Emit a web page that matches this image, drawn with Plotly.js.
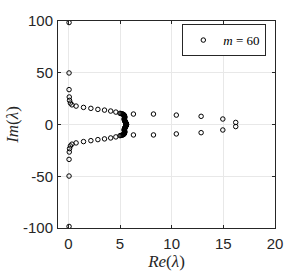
<!DOCTYPE html>
<html>
<head>
<meta charset="utf-8">
<script src="https://cdn.plot.ly/plotly-3.0.1.min.js"></script>
<style>html,body{margin:0;padding:0;background:#fff;}#chart{width:304px;height:273px;}</style>
</head>
<body>
<div id="chart"></div>
<script>
// Upper half of eigenvalues (Re, Im); lower half is the conjugate
const reUpper = [0.07, 0.07, 0.07, 0.09, 0.12, 0.2, 0.35, 0.75, 1.47, 2.18, 2.86, 3.5, 4.1, 4.6, 5.0,
  5.1, 5.2, 5.28, 5.34, 5.38, 5.41, 5.43, 5.44, 5.45, 5.45, 5.45, 5.44, 5.43, 5.42, 5.42, 5.42, 5.43, 5.44, 5.46, 5.48, 5.5, 5.52, 5.54, 5.56, 5.58, 5.6, 5.61, 5.62, 5.63,
  6.3, 8.24, 10.45, 12.85, 14.95, 16.2];
const imUpper = [98.5, 49.8, 33.7, 26.6, 23.3, 20.7, 19.0, 17.8, 16.5, 15.6, 14.6, 13.9, 13.0, 12.0, 10.8,
  10.6, 10.3, 10.0, 9.6, 9.2, 8.8, 8.4, 8.0, 7.6, 7.2, 6.8, 6.4, 6.0, 5.6, 5.2, 4.8, 4.4, 4.0, 3.6, 3.2, 2.8, 2.4, 2.0, 1.6, 1.3, 1.0, 0.7, 0.4, 0.15,
  10.1, 10.1, 9.1, 7.9, 5.3, 2.0];
const legendLabel = "<i>m</i> = 60";
const xTicks = [0, 5, 10, 15, 20];
const yTicks = [-100, -50, 0, 50, 100];

const re = reUpper.concat(reUpper);
const im = imUpper.concat(imUpper.map(v => -v));

const trace = {
  x: re, y: im, type: 'scatter', mode: 'markers', name: legendLabel,
  marker: {symbol: 'circle-open', size: 4.5, color: '#000', line: {width: 1, color: '#000'}},
  showlegend: true
};

const axisCommon = {
  showline: true, mirror: 'ticks', linecolor: '#262626', linewidth: 1,
  ticks: 'inside', ticklen: 3, tickcolor: '#262626',
  showgrid: true, gridcolor: '#e8e8e8', gridwidth: 1, zeroline: false,
  tickfont: {family: 'Liberation Sans, Arial, sans-serif', size: 15, color: '#262626'}
};

const layout = {
  width: 304, height: 273,
  margin: {l: 57.5, r: 29, t: 20.5, b: 44.5},
  paper_bgcolor: '#fff', plot_bgcolor: '#fff',
  showlegend: true,
  xaxis: Object.assign({}, axisCommon, {
    range: [-1, 20], tickvals: xTicks, ticktext: xTicks.map(String), ticklabelstandoff: 2,
    title: {text: '<i>Re</i>(<i>λ</i>)', font: {family: 'Liberation Serif, serif', size: 17, color: '#262626'}, standoff: 0}
  }),
  yaxis: Object.assign({}, axisCommon, {
    range: [-100, 100], tickvals: yTicks, ticktext: yTicks.map(String), ticklabelstandoff: 1,
    title: {text: '<i>Im</i>(<i>λ</i>)', font: {family: 'Liberation Serif, serif', size: 17, color: '#262626'}, standoff: 0}
  }),
  legend: {
    x: 0.96, y: 0.985, xanchor: 'right', yanchor: 'top',
    bgcolor: '#fff', bordercolor: '#262626', borderwidth: 1,
    font: {family: 'Liberation Serif, serif', size: 13, color: '#000'},
    itemwidth: 30, tracegroupgap: 0
  }
};

Plotly.newPlot('chart', [trace], layout, {displayModeBar: false, staticPlot: true});
</script>
</body>
</html>
